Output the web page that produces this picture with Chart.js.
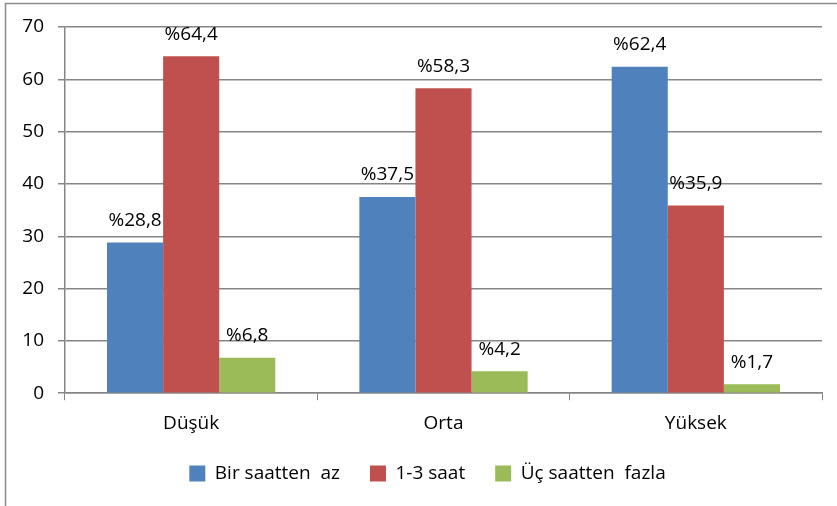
<!DOCTYPE html>
<html>
<head>
<meta charset="utf-8">
<script src="https://cdn.jsdelivr.net/npm/chart.js@4.4.0/dist/chart.umd.min.js"></script>
<style>
  body { margin: 0; background: #fff; }
  #wrap { width: 837px; height: 506px; position: relative; }
</style>
</head>
<body>
<div id="wrap"><canvas id="myChart" width="837" height="506"></canvas></div>
<script>
const categories = ["Düşük", "Orta", "Yüksek"];
const seriesNames = ["Bir saatten  az", "1-3 saat", "Üç saatten  fazla"];
const birSaattenAz = [28.8, 37.5, 62.4];
const birUcSaat = [64.4, 58.3, 35.9];
const ucSaattenFazla = [6.8, 4.2, 1.7];
const yTicks = [0, 10, 20, 30, 40, 50, 60, 70];

const colors = ["#4F81BD", "#C0504D", "#9BBB59"];
const fontFamily = "'Open Sans', 'Liberation Sans', sans-serif";

// frame around the whole chart, like the excel chart border
const framePlugin = {
    id: "frame",
    beforeDraw(chart) {
        let ctx = chart.ctx;
        ctx.save();
        ctx.fillStyle = "#fff";
        ctx.fillRect(0, 0, chart.width, chart.height);
        ctx.strokeStyle = "#8c8c8c";
        ctx.lineWidth = 1.5;
        ctx.strokeRect(5.5, 3.5, 900, 600);
        ctx.restore();
    }
};

// legend sits a bit higher and further right than chart.js puts it
const legendShift = {
    id: "legendShift",
    afterLayout(chart) {
        let lg = chart.legend;
        lg.top -= 13; lg.bottom -= 13;
        lg.left += 14; lg.right += 14;
    }
};

// value labels above each bar: "%28,8"
const valueLabels = {
    id: "valueLabels",
    afterDatasetsDraw(chart) {
        let ctx = chart.ctx;
        ctx.save();
        ctx.font = "19px " + fontFamily;
        ctx.fillStyle = "#000";
        ctx.textAlign = "center";
        ctx.textBaseline = "middle";
        chart.data.datasets.forEach(function(ds, i) {
            chart.getDatasetMeta(i).data.forEach(function(bar, j) {
                let txt = "%" + ds.data[j].toFixed(1).replace(".", ",");
                ctx.fillText(txt, bar.x, bar.y - 22);
            });
        });
        ctx.restore();
    }
};

new Chart(document.getElementById("myChart"), {
    type: "bar",
    data: {
        labels: categories,
        datasets: [
            { label: seriesNames[0], data: birSaattenAz, backgroundColor: colors[0] },
            { label: seriesNames[1], data: birUcSaat, backgroundColor: colors[1] },
            { label: seriesNames[2], data: ucSaattenFazla, backgroundColor: colors[2] }
        ]
    },
    options: {
        responsive: false,
        animation: false,
        layout: { padding: { left: 5, right: 15, top: 27, bottom: 0 } },
        datasets: { bar: { categoryPercentage: 0.667, barPercentage: 1.0 } },
        scales: {
            x: {
                grid: { drawOnChartArea: false, offset: true, tickLength: 7, color: "#868686" },
                border: { color: "#868686", width: 1.5 },
                ticks: { color: "#000", font: { family: fontFamily, size: 19 }, padding: 12 }
            },
            y: {
                min: 0, max: 70,
                afterFit: function(s) { s.width = 60; },
                afterBuildTicks: function(s) { s.ticks = yTicks.map(function(v) { return { value: v }; }); },
                grid: { color: "#868686", lineWidth: 1.5, tickLength: 7 },
                border: { color: "#868686", width: 1.5 },
                ticks: { color: "#000", font: { family: fontFamily, size: 19 }, padding: 14 }
            }
        },
        plugins: {
            legend: {
                position: "bottom",
                maxHeight: 62,
                labels: {
                    color: "#000",
                    font: { family: fontFamily, size: 19 },
                    boxWidth: 16, boxHeight: 16,
                    padding: 30
                }
            },
            tooltip: { enabled: false }
        }
    },
    plugins: [framePlugin, legendShift, valueLabels]
});
</script>
</body>
</html>
